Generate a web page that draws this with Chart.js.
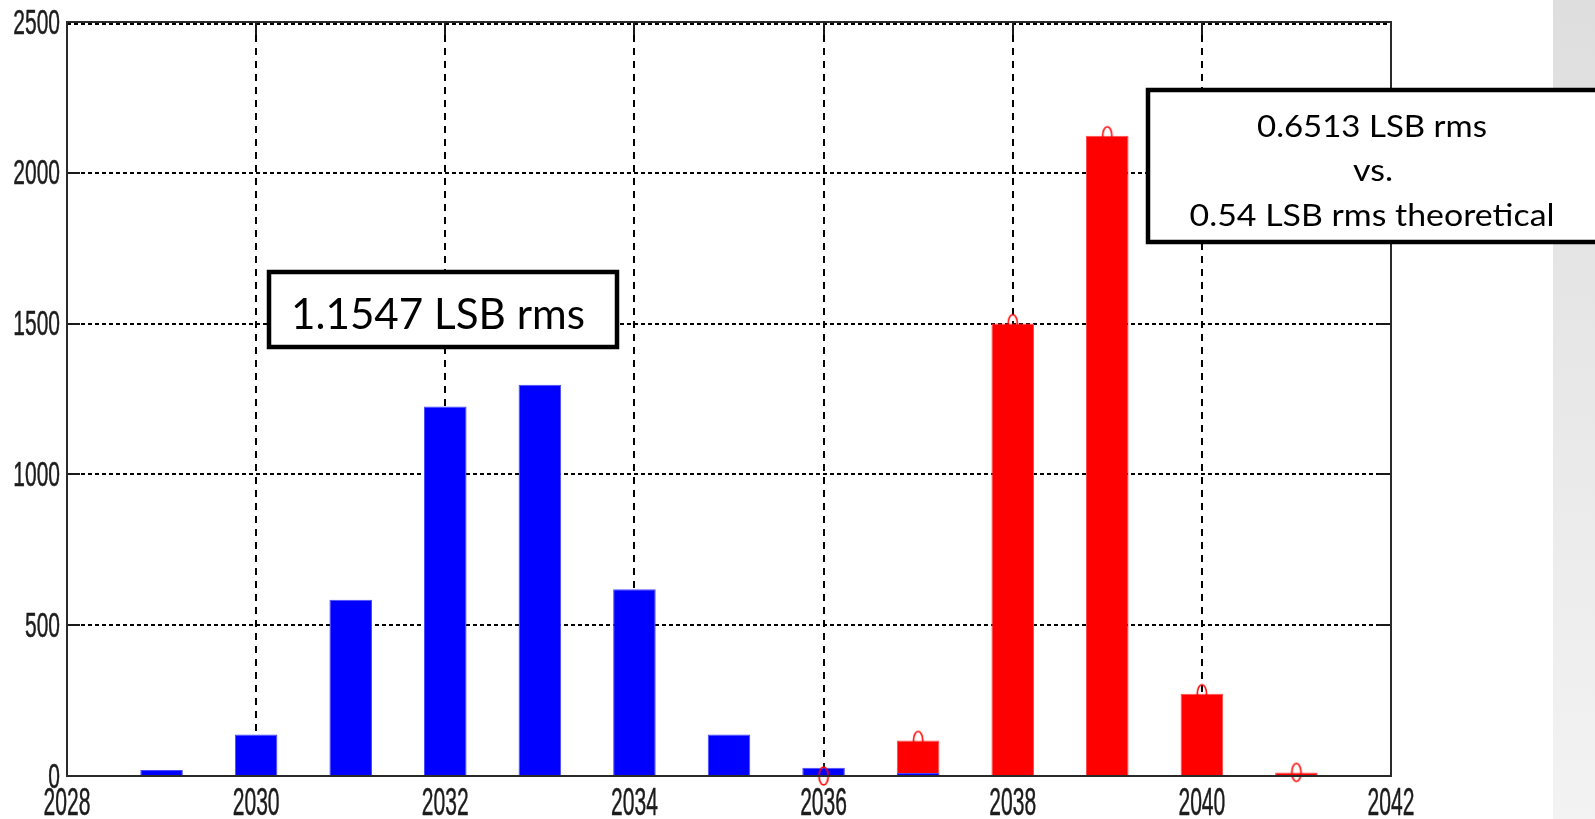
<!DOCTYPE html>
<html>
<head>
<meta charset="utf-8">
<title>Histogram of output codes</title>
<script src="https://cdn.jsdelivr.net/npm/chart.js@4.4.0/dist/chart.umd.min.js"></script>
<style>
  html, body { margin: 0; padding: 0; background: #fff; overflow: hidden; }
  canvas { display: block; }
</style>
</head>
<body>
<canvas id="hist" width="1595" height="819"></canvas>
<script>
// Output-code histograms: blue = before calibration, red = after
const blueBins   = [2029, 2030, 2031, 2032, 2033, 2034, 2035, 2036, 2037];
const blueCounts = [20, 138, 584, 1225, 1297, 619, 138, 27, 10];
const redBins    = [2036, 2037, 2038, 2039, 2040, 2041];
const redCounts  = [0, 118, 1500, 2123, 273, 12];

const xTickValues = [2028, 2030, 2032, 2034, 2036, 2038, 2040, 2042];
const yTickValues = [0, 500, 1000, 1500, 2000, 2500];

const leftNote  = ['1.1547 LSB rms'];
const rightNote = ['0.6513 LSB rms', 'vs.', '0.54 LSB rms theoretical'];

// hollow tall ellipse used as the marker of the red series
function ellipseMarker(color) {
  const c = document.createElement('canvas');
  c.width = 14; c.height = 22;
  const g = c.getContext('2d');
  g.strokeStyle = color;
  g.lineWidth = 1.6;
  g.beginPath();
  g.ellipse(7, 11, 4.6, 9, 0, 0, Math.PI * 2);
  g.stroke();
  return c;
}

function drawStretched(ctx, text, x, y, font, sx, align) {
  ctx.save();
  ctx.translate(x, y);
  ctx.scale(sx, 1);
  ctx.font = font;
  ctx.textAlign = align;
  ctx.textBaseline = 'alphabetic';
  ctx.lineWidth = 0.5;
  ctx.strokeStyle = ctx.fillStyle;
  ctx.fillText(text, 0, 0);
  ctx.strokeText(text, 0, 0);
  ctx.restore();
}

function drawFitted(ctx, text, cx, baseline, font, width) {
  ctx.save();
  ctx.font = font;
  const w = ctx.measureText(text).width;
  ctx.translate(cx, baseline);
  ctx.scale(width / w, 1);
  ctx.textAlign = 'center';
  ctx.textBaseline = 'alphabetic';
  ctx.fillText(text, 0, 0);
  ctx.restore();
}

const backdrop = {
  id: 'backdrop',
  beforeDraw(chart) {
    const ctx = chart.ctx;
    ctx.save();
    ctx.fillStyle = '#ffffff';
    ctx.fillRect(0, 0, chart.width, chart.height);
    const grad = ctx.createLinearGradient(0, 0, 0, chart.height);
    grad.addColorStop(0, '#dedede');
    grad.addColorStop(1, '#f3f3f3');
    ctx.fillStyle = grad;
    ctx.fillRect(1553, 0, chart.width - 1553, chart.height);
    ctx.restore();
  }
};

// dotted grid and inward tick marks, drawn behind the bars
const matlabGrid = {
  id: 'matlabGrid',
  beforeDatasetsDraw(chart) {
    const { ctx, chartArea: a, scales: { x, y } } = chart;
    ctx.save();
    ctx.strokeStyle = '#000';
    ctx.lineWidth = 2;
    ctx.setLineDash([4, 3]);
    yTickValues.forEach(v => {
      if (v === 0) return;
      let py = Math.round(y.getPixelForValue(v));
      if (v === 2500) py += 2;
      ctx.beginPath(); ctx.moveTo(a.left, py); ctx.lineTo(a.right, py); ctx.stroke();
    });
    ctx.setLineDash([7, 6]);
    xTickValues.forEach(v => {
      if (v === 2028 || v === 2042) return;
      const px = Math.round(x.getPixelForValue(v));
      ctx.beginPath(); ctx.moveTo(px, a.top); ctx.lineTo(px, a.bottom); ctx.stroke();
    });
    ctx.setLineDash([]);
    ctx.strokeStyle = '#1a1a1a';
    const t = 13;
    yTickValues.forEach(v => {
      const py = Math.round(y.getPixelForValue(v));
      ctx.beginPath();
      ctx.moveTo(a.left, py); ctx.lineTo(a.left + t, py);
      ctx.moveTo(a.right, py); ctx.lineTo(a.right - t, py);
      ctx.stroke();
    });
    xTickValues.forEach(v => {
      const px = Math.round(x.getPixelForValue(v));
      ctx.beginPath();
      ctx.moveTo(px, a.bottom); ctx.lineTo(px, a.bottom - t);
      ctx.moveTo(px, a.top); ctx.lineTo(px, a.top + t);
      ctx.stroke();
    });
    ctx.restore();
  },
  afterDatasetsDraw(chart) {
    const { ctx, chartArea: a } = chart;
    ctx.save();
    ctx.strokeStyle = '#2a2a2a';
    ctx.lineWidth = 2;
    ctx.strokeRect(a.left, a.top, a.right - a.left, a.bottom - a.top);
    ctx.restore();
  }
};

// tick labels in a tall narrow face, plus the two boxed notes
const labelsAndNotes = {
  id: 'labelsAndNotes',
  afterDraw(chart) {
    const { ctx, chartArea: a, scales: { x, y } } = chart;
    ctx.save();
    ctx.fillStyle = '#1c1c1c';
    yTickValues.forEach(v => {
      const py = y.getPixelForValue(v);
      drawStretched(ctx, String(v), 60, py + 11.5, '35px "Liberation Sans"', 0.6, 'right');
    });
    xTickValues.forEach(v => {
      const px = x.getPixelForValue(v);
      drawStretched(ctx, String(v), px, a.bottom + 39, '39px "Liberation Sans"', 0.54, 'center');
    });

    // left note
    ctx.fillStyle = '#ffffff';
    ctx.fillRect(269, 272, 348, 75);
    ctx.strokeStyle = '#000';
    ctx.lineWidth = 4.5;
    ctx.strokeRect(269, 272, 348, 75);
    ctx.fillStyle = '#000';
    drawFitted(ctx, leftNote[0], 438, 329, '43px Lato', 294);

    // right note (runs off the right edge)
    ctx.fillStyle = '#ffffff';
    ctx.fillRect(1148, 90, 460, 152);
    ctx.strokeStyle = '#000';
    ctx.lineWidth = 4.5;
    ctx.strokeRect(1148, 90, 460, 152);
    ctx.fillStyle = '#000';
    drawFitted(ctx, rightNote[0], 1372, 137, '31px Lato', 230);
    drawFitted(ctx, rightNote[1], 1373, 181, '31px Lato', 40);
    drawFitted(ctx, rightNote[2], 1372, 226, '31px Lato', 365);
    ctx.restore();
  }
};

const blueData = blueBins.map((b, i) => ({ x: b, y: blueCounts[i] }));
const redData  = redBins.map((b, i) => ({ x: b, y: redCounts[i] }));

new Chart(document.getElementById('hist'), {
  type: 'bar',
  data: {
    datasets: [
      {
        type: 'line',
        label: 'red markers',
        data: redData,
        showLine: false,
        pointStyle: ellipseMarker('#ff0000'),
        pointRadius: 5,
        clip: false,
        order: 0
      },
      {
        label: 'blue',
        data: blueData,
        backgroundColor: '#0000ff',
        borderColor: '#4a4aff',
        borderWidth: 1,
        grouped: false,
        barPercentage: 0.45,
        categoryPercentage: 1,
        order: 1
      },
      {
        label: 'red',
        data: redData,
        backgroundColor: '#ff0000',
        borderColor: '#ff4a4a',
        borderWidth: 1,
        grouped: false,
        barPercentage: 0.45,
        categoryPercentage: 1,
        order: 2
      }
    ]
  },
  options: {
    responsive: false,
    devicePixelRatio: 1,
    animation: false,
    events: [],
    layout: { padding: { left: 67, top: 22, right: 204, bottom: 43 } },
    plugins: { legend: { display: false }, tooltip: { enabled: false } },
    scales: {
      x: { type: 'linear', min: 2028, max: 2042, offset: false, display: false, grid: { offset: false } },
      y: { type: 'linear', min: 0, max: 2500, display: false }
    }
  },
  plugins: [backdrop, matlabGrid, labelsAndNotes]
});
</script>
</body>
</html>
